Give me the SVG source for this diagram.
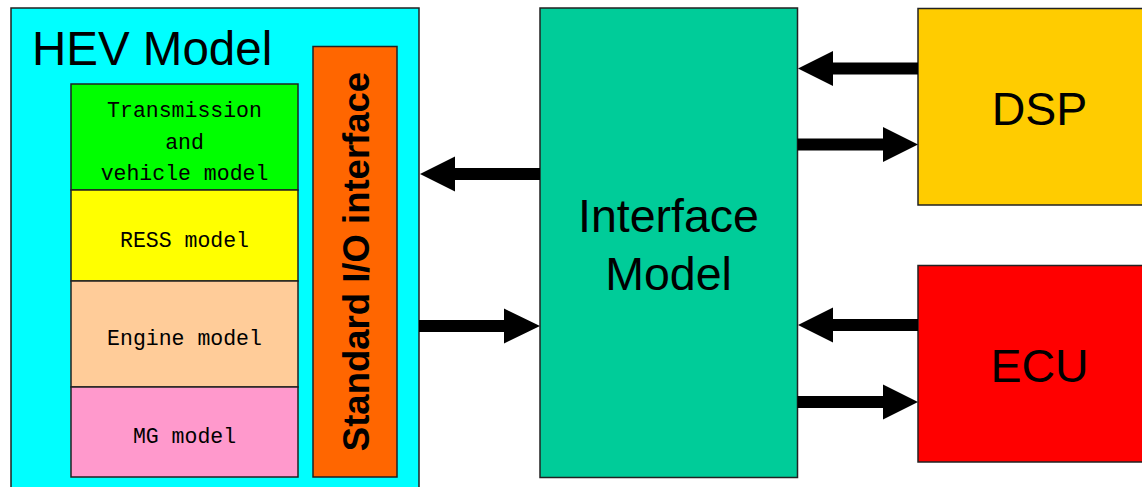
<svg xmlns="http://www.w3.org/2000/svg" width="1142" height="487" viewBox="0 0 1142 487">
<style>
.box{stroke:#222;stroke-width:1.5}
.sans{font-family:"Liberation Sans",Arial,sans-serif;fill:#000}
.mono{font-family:"Liberation Mono","Courier New",monospace;font-size:21.5px;fill:#000;text-anchor:middle}
.big{font-size:46.5px;text-anchor:middle}
.arrow{fill:#000;stroke:none}
</style>
<rect width="1142" height="487" fill="#fff"/>
<g id="hev">
<rect class="box" x="11" y="8" width="408" height="490" fill="#00FFFF"/>
<text class="sans" x="32" y="65" font-size="47.5">HEV Model</text>
</g>
<g id="transmission">
<rect class="box" x="71" y="84" width="227" height="106" fill="#00FF00"/>
<text class="mono" x="184.5" y="117">Transmission</text>
<text class="mono" x="184.5" y="148.5">and</text>
<text class="mono" x="184.5" y="180">vehicle model</text>
</g>
<g id="ress">
<rect class="box" x="71" y="190" width="227" height="91" fill="#FFFF00"/>
<text class="mono" x="184.5" y="246.5">RESS model</text>
</g>
<g id="engine">
<rect class="box" x="71" y="281" width="227" height="106" fill="#FFCC99"/>
<text class="mono" x="184.5" y="345">Engine model</text>
</g>
<g id="mg">
<rect class="box" x="71" y="387" width="227" height="90" fill="#FF99CC"/>
<text class="mono" x="184.5" y="443">MG model</text>
</g>
<g id="stdio">
<rect class="box" x="313" y="46.5" width="84" height="430.5" fill="#FF6600"/>
<text class="sans" transform="translate(369,261.5) rotate(-90)" font-size="36.5" font-weight="bold" text-anchor="middle">Standard I/O interface</text>
</g>
<g id="interface">
<rect class="box" x="540" y="8" width="257.5" height="469.5" fill="#00CC99"/>
<text class="sans big" x="668.5" y="232">Interface</text>
<text class="sans big" x="668.5" y="290">Model</text>
</g>
<g id="dsp">
<rect class="box" x="918" y="8.5" width="230" height="196.5" fill="#FFCC00"/>
<text class="sans big" x="1039.5" y="125">DSP</text>
</g>
<g id="ecu">
<rect class="box" x="918" y="265.5" width="230" height="196.5" fill="#FF0000"/>
<text class="sans big" x="1039.5" y="381.5">ECU</text>
</g>
<g id="connectors">
<path class="arrow" d="M918,62.5 L833,62.5 L833,51 L798,68.5 L833,86 L833,74.5 L918,74.5 Z"/>
<path class="arrow" d="M797.5,138.5 L883,138.5 L883,127 L918,144.5 L883,162 L883,150.5 L797.5,150.5 Z"/>
<path class="arrow" d="M918,319 L833,319 L833,307.5 L798,325 L833,342.5 L833,331 L918,331 Z"/>
<path class="arrow" d="M797.5,396 L883,396 L883,384.5 L918,402 L883,419.5 L883,408 L797.5,408 Z"/>
<path class="arrow" d="M540,168 L455,168 L455,156.5 L420,174 L455,191.5 L455,180 L540,180 Z"/>
<path class="arrow" d="M419,320 L504,320 L504,308.5 L540,326 L504,343.5 L504,332 L419,332 Z"/>
</g>
</svg>
